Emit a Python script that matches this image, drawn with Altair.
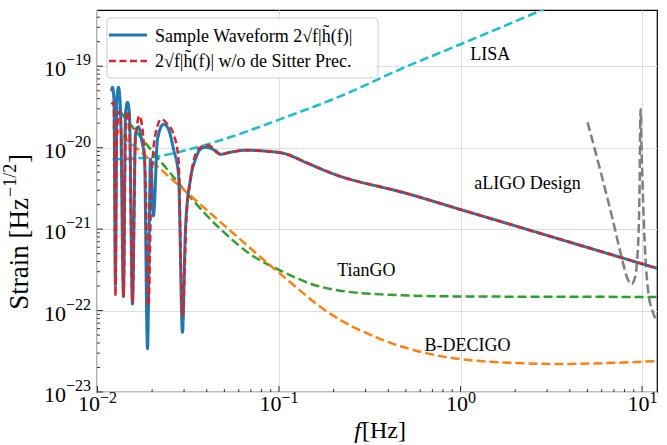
import altair as alt
import pandas as pd

# ---------------------------------------------------------------------------
# Data: frequencies in Hz, amplitude spectral densities in strain / sqrt(Hz)
# ---------------------------------------------------------------------------
SAMPLE = "Sample Waveform 2√f|h\u0303(f)|"
NOPREC = "2√f|h\u0303(f)| w/o de Sitter Prec."

# common inspiral tail (f^-2/3) shared by both waveforms
tail_f = [0.1086, 0.14, 0.2, 0.5, 1.0, 3.0, 12.1]
tail_h = [8.4e-21, 6.6e-21, 4.75e-21, 2.76e-21, 1.74e-21, 8.37e-22, 3.30e-22]

wave_f = [0.01194, 0.01210, 0.01233, 0.01256, 0.01280, 0.01305, 0.01339, 0.01391,
          0.01427, 0.01463, 0.01500, 0.01559, 0.01620, 0.01682, 0.01747, 0.01816,
          0.01886, 0.01959, 0.02035, 0.02141, 0.02311, 0.02461, 0.02623, 0.02795,
          0.02940, 0.03053, 0.03253, 0.03467, 0.03694, 0.03936, 0.04302, 0.04761,
          0.05406, 0.06539, 0.08427] + tail_f
wave_h = [4.9e-20, 5.5e-20, 3.9e-20, 2.0e-22, 3.9e-20, 5.5e-20, 3.0e-20, 1.5e-22,
          2.6e-20, 3.6e-20, 2.6e-20, 1.2e-22, 1.47e-20, 1.8e-20, 1.27e-20, 7.2e-21,
          3.4e-23, 7.2e-21, 1.45e-21, 1.27e-20, 1.94e-20, 1.69e-20, 9.6e-21, 4.7e-21,
          5.4e-23, 1.0e-21, 4.1e-21, 7.2e-21, 9.6e-21, 1.01e-20, 9.6e-21, 8.3e-21,
          8.8e-21, 9.3e-21, 9.06e-21] + tail_h

noprec_f = [0.01194, 0.01225, 0.01241, 0.01256, 0.01273, 0.01305, 0.01322, 0.01356,
            0.01391, 0.01427, 0.01463, 0.01500, 0.01559, 0.01620, 0.01704, 0.01770,
            0.01839, 0.01910, 0.01984, 0.02087, 0.02253, 0.02430, 0.02623, 0.02795,
            0.02940, 0.03093, 0.03253, 0.03467, 0.03694, 0.03987, 0.04302, 0.04761,
            0.05406, 0.06539, 0.08427] + tail_f
noprec_h = [3.4e-20, 3.6e-20, 9.6e-21, 1.5e-22, 9.6e-21, 2.6e-20, 2.8e-20, 1.27e-20,
            1.47e-22, 1.27e-20, 2.8e-20, 1.69e-20, 1.27e-22, 1.27e-20, 2.44e-20, 1.69e-20,
            4.1e-21, 1.14e-22, 4.1e-21, 1.47e-20, 2.24e-20, 1.94e-20, 1.47e-20, 7.2e-21,
            8.6e-23, 1.45e-21, 4.1e-21, 8.3e-21, 1.01e-20, 1.07e-20, 1.01e-20, 8.3e-21,
            8.8e-21, 9.3e-21, 9.06e-21] + tail_h

lisa_f = [0.0121, 0.0196, 0.0325, 0.0541, 0.1019, 0.2182, 0.467, 1.0, 2.14, 3.56]
lisa_h = [7.2e-21, 7.6e-21, 9.6e-21, 1.35e-20, 2.24e-20, 4.29e-20, 9.2e-20, 1.86e-19,
          3.78e-19, 6.1e-19]

tiango_f = [0.0121, 0.0196, 0.0476, 0.0697, 0.1019, 0.1693, 0.3624, 1.0, 12.1]
tiango_h = [3.62e-20, 9.6e-21, 1.0e-21, 4.9e-22, 3.1e-22, 1.96e-22, 1.58e-22,
            1.49e-22, 1.47e-22]

bdecigo_f = [0.0121, 0.0196, 0.0476, 0.1019, 0.1922, 0.3624, 0.6834, 1.289, 3.56, 12.1]
bdecigo_h = [1.79e-20, 7.0e-21, 1.22e-21, 2.81e-22, 9.1e-23, 4.47e-23, 2.92e-23,
             2.40e-23, 2.21e-23, 2.40e-23]

aligo_f = [5.01, 5.905, 6.88, 7.81, 8.32, 8.75, 9.09, 9.45, 9.69, 9.81, 9.94, 10.32,
           10.86, 11.43, 12.1]
aligo_h = [2.05e-20, 5.15e-21, 1.33e-21, 4.05e-22, 2.44e-22, 2.11e-22, 2.44e-22,
           4.93e-22, 3.10e-21, 2.97e-20, 9.59e-21, 7.53e-22, 1.59e-22, 9.86e-23, 7.2e-23]

# detector annotations
label_text = ["LISA", "aLIGO Design", "TianGO", "B-DECIGO"]
label_f = [1.46, 2.34, 0.303, 1.093]
label_h = [1.36e-19, 3.56e-21, 3.05e-22, 3.66e-23]

# axis ticks: decade values and their exponents
x_major = [0.01, 0.1, 1.0, 10.0]
x_exp = ["−2", "−1", "0", "1"]
y_major = [1e-23, 1e-22, 1e-21, 1e-20, 1e-19]
y_exp = ["−23", "−22", "−21", "−20", "−19"]
x_minor = [k * 10.0 ** e for e in range(-2, 2) for k in range(2, 10) if k * 10.0 ** e < 12]
y_minor = [k * 10.0 ** e for e in range(-23, -18) for k in range(2, 10) if k * 10.0 ** e < 4.9e-19]

# ---------------------------------------------------------------------------
W, H = 560, 382
FONT = "Liberation Serif"
BLUE, RED = "#1f77b4", "#d62728"
DASH = [9, 4]
RED_DASH = [7, 3.5]

xscale = alt.Scale(type="log", domain=[0.00994, 12.09], nice=False)
yscale = alt.Scale(type="log", domain=[1e-23, 4.9e-19], nice=False)

grid_axis = dict(grid=True, gridColor="#dddddd", gridWidth=1, ticks=False, domain=False,
                 labels=False, title=None)
xaxis = alt.Axis(values=x_major, **grid_axis)
yaxis = alt.Axis(values=y_major, **grid_axis)


def X():
    return alt.X("f:Q", scale=xscale, axis=xaxis)


def Y():
    return alt.Y("h:Q", scale=yscale, axis=yaxis)


def curve(f, h, color, dash, width):
    df = pd.DataFrame({"f": f, "h": h})
    return alt.Chart(df).mark_line(color=color, strokeDash=dash, strokeWidth=width,
                                   interpolate="monotone", clip=True).encode(x=X(), y=Y())


def yticks(values, length):
    return alt.Chart(pd.DataFrame({"h": values})).mark_rule(color="black", strokeWidth=0.8).encode(
        y=Y(), x=alt.value(0), x2=alt.value(length))


def xticks(values, length):
    return alt.Chart(pd.DataFrame({"f": values})).mark_rule(color="black", strokeWidth=0.8).encode(
        x=X(), y=alt.value(H), y2=alt.value(H - length))


def text_at(text, x, y, size=22, **kw):
    return alt.Chart().mark_text(text=text, font=FONT, fontSize=size, color="black", **kw).encode(
        x=alt.value(x), y=alt.value(y))


# tick labels written as 10 with a raised exponent
ylab = pd.DataFrame({"h": y_major, "e": y_exp})
y_labels = [
    alt.Chart(ylab).mark_text(text="10", font=FONT, fontSize=22, align="right",
                              baseline="middle", dy=3, color="black").encode(
        x=alt.value(-31), y=Y()),
    alt.Chart(ylab).mark_text(font=FONT, fontSize=16, align="left", baseline="middle",
                              dy=-6, color="black").encode(
        x=alt.value(-31), y=Y(), text="e:N"),
]
x_labels = []
for lo, hi, shift in [(0, 2, 2.5), (2, 4, 7.5)]:
    xl = pd.DataFrame({"f": x_major[lo:hi], "e": x_exp[lo:hi]})
    x_labels += [
        alt.Chart(xl).mark_text(text="10", font=FONT, fontSize=22, align="right",
                                baseline="top", dx=shift, color="black").encode(
            x=X(), y=alt.value(H + 2)),
        alt.Chart(xl).mark_text(font=FONT, fontSize=16, align="left", baseline="top",
                                dx=shift, color="black").encode(
            x=X(), y=alt.value(H - 2), text="e:N"),
    ]

# legend box with line samples
legend = [
    alt.Chart().mark_rect(fill="white", fillOpacity=0.85, stroke="#cccccc", strokeWidth=1,
                          cornerRadius=4).encode(
        x=alt.value(10), x2=alt.value(281), y=alt.value(8), y2=alt.value(68)),
    alt.Chart().mark_rule(color=BLUE, strokeWidth=3).encode(
        x=alt.value(12), x2=alt.value(50), y=alt.value(25)),
    alt.Chart().mark_rule(color=RED, strokeWidth=2.5, strokeDash=RED_DASH).encode(
        x=alt.value(12), x2=alt.value(50), y=alt.value(51)),
    text_at(SAMPLE, 58, 27, size=18, align="left", baseline="middle"),
    text_at(NOPREC, 58, 52, size=18, align="left", baseline="middle"),
]

titles = [
    # x-axis title: italic f followed by the unit
    text_at("f", 264, 421, size=24, fontStyle="italic", align="right", baseline="middle"),
    text_at("[Hz]", 265, 421, size=24, align="left", baseline="middle"),
    # y-axis title, read bottom to top, with a raised exponent
    text_at("Strain [Hz", -69, 188, size=27, angle=270, align="right", baseline="alphabetic"),
    text_at("−1/2", -81, 187, size=18, angle=270, align="left", baseline="alphabetic"),
    text_at("]", -69, 153, size=27, angle=270, align="left", baseline="alphabetic"),
]

layers = [
    yticks(y_minor, 3), yticks(y_major, 6), xticks(x_minor, 3), xticks(x_major, 6),
    curve(lisa_f, lisa_h, "#17becf", DASH, 2.5),
    curve(tiango_f, tiango_h, "#2ca02c", DASH, 2.5),
    curve(bdecigo_f, bdecigo_h, "#ff7f0e", DASH, 2.5),
    curve(aligo_f, aligo_h, "#7f7f7f", DASH, 2.5),
    curve(wave_f, wave_h, BLUE, [1, 0], 3),
    curve(noprec_f, noprec_h, RED, RED_DASH, 2.5),
    alt.Chart(pd.DataFrame({"f": label_f, "h": label_h, "t": label_text})).mark_text(
        font=FONT, fontSize=18, color="black", align="center", baseline="middle"
    ).encode(x=X(), y=Y(), text="t:N"),
] + y_labels + x_labels + legend + titles

chart = alt.layer(*layers).properties(
    width=W, height=H,
    autosize=alt.AutoSizeParams(type="none"),
    padding={"left": 97, "top": 10, "right": 10, "bottom": 53},
).configure_view(stroke="black", strokeWidth=1.2)

chart.save("out.html", embed_options={"renderer": "svg", "actions": False})
